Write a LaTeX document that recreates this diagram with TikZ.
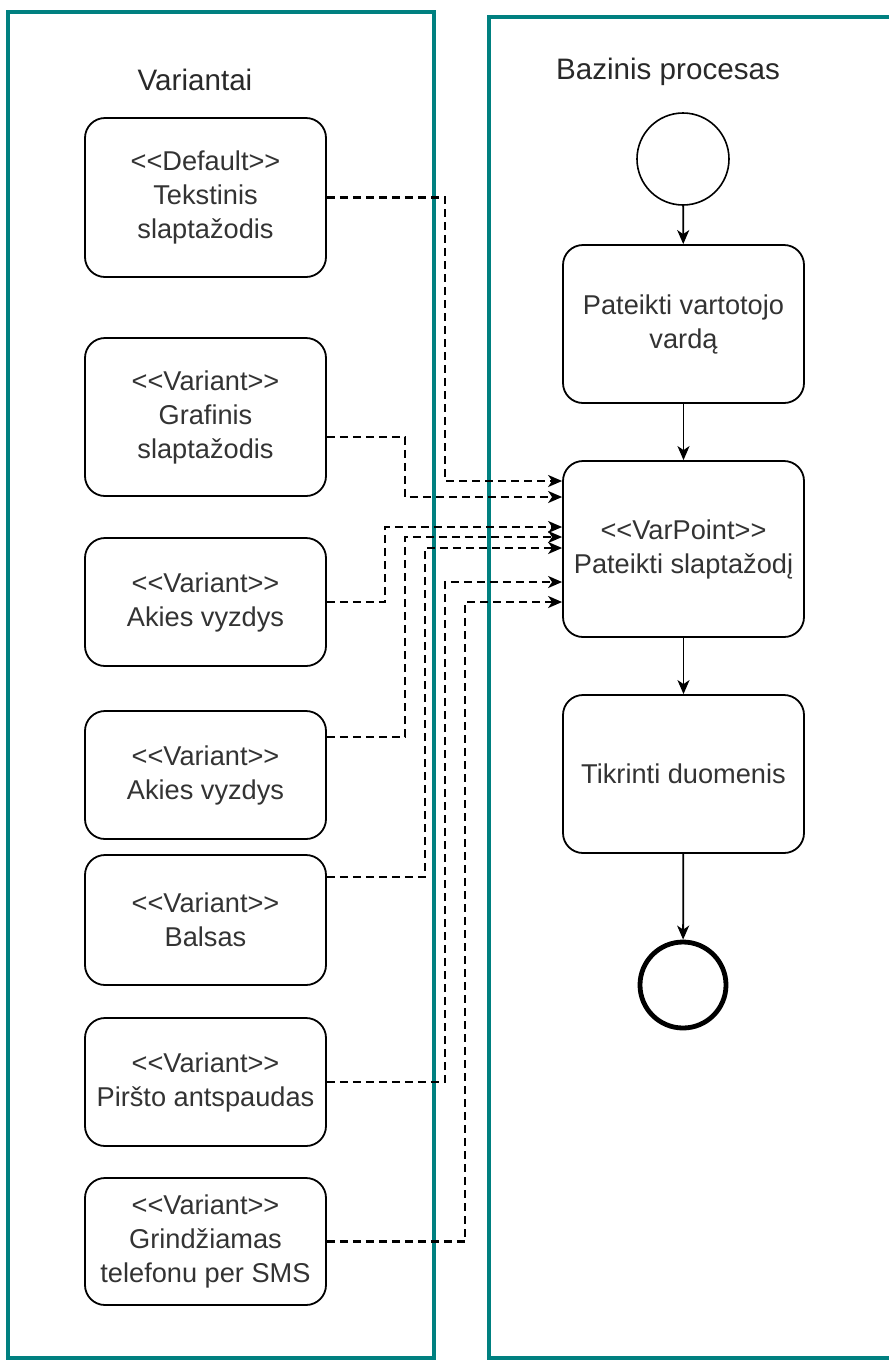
\documentclass[tikz,border=0pt]{standalone}
\usepackage{fontspec}
\setmainfont{Liberation Sans}[Ligatures=TeXOff]
\usetikzlibrary{arrows.meta}
\definecolor{poolteal}{HTML}{008080}
\definecolor{labeltext}{HTML}{333333}
\begin{document}
\begin{tikzpicture}[x=0.5pt,y=-0.5pt,
  pool/.style={draw=poolteal,line width=2pt},
  pooltitle/.style={text=labeltext!80!black,font=\fontsize{14.8pt}{17pt}\selectfont},
  task/.style={draw=black,line width=0.9pt,rounded corners=10pt,fill=white,
    minimum width=120.5pt,align=center,text=labeltext,inner sep=0pt,
    font=\fontsize{13.6pt}{17pt}\selectfont},
  startev/.style={circle,draw=black,line width=0.8pt,minimum size=46pt,inner sep=0pt,fill=white},
  endev/.style={circle,draw=black,line width=2.4pt,minimum size=43pt,inner sep=0pt,fill=white},
  flow/.style={line width=0.9pt,-{Stealth[length=7pt,width=6pt,inset=2pt]}},
  varlink/.style={line width=1.1pt,dash pattern=on 4pt off 2.5pt,
    -{Stealth[length=7pt,width=6pt,inset=2pt]}}]
\useasboundingbox (0,0) rectangle (889,1361);
\fill[white] (0,0) rectangle (889,1361);
\begin{scope}
\clip (0,0) rectangle (889,1361);
% swimlanes
\draw[pool] (8,12) rectangle (434,1358);
\draw[pool] (489,17) rectangle (940,1358);
\end{scope}
\node[pooltitle] (ttlvar) at (195,80) {Variantai};
\node[pooltitle] (ttlbase) at (668,72) {Bazinis procesas};

% variant boxes
\node[task,minimum height=79.5pt] (b1) at (205.5,197.5) {<<Default>>\\Tekstinis\\slaptažodis};
\node[task,minimum height=79pt] (b2) at (205.5,417) {<<Variant>>\\Grafinis\\slaptažodis};
\node[task,minimum height=64pt] (b3) at (205.5,602) {<<Variant>>\\Akies vyzdys};
\node[task,minimum height=64pt] (b4) at (205.5,775) {<<Variant>>\\Akies vyzdys};
\node[task,minimum height=65pt] (b5) at (205.5,920) {<<Variant>>\\Balsas};
\node[task,minimum height=64pt] (b6) at (205.5,1082) {<<Variant>>\\Piršto antspaudas};
\node[task,minimum height=63.5pt] (b7) at (205.5,1241.5) {<<Variant>>\\Grindžiamas\\telefonu per SMS};

% base process
\node[startev] (st) at (683,159) {};
\node[task,minimum height=79pt] (r1) at (683.5,324) {Pateikti vartotojo\\vardą};
\node[task,minimum height=88pt] (r2) at (683.5,549) {<<VarPoint>>\\Pateikti slaptažodį};
\node[task,minimum height=79pt] (r3) at (683.5,774) {Tikrinti duomenis};
\node[endev] (en) at (683,985) {};

\draw[flow] (st) -- (r1);
\draw[flow] (r1) -- (r2);
\draw[flow] (r2) -- (r3);
\draw[flow] (r3) -- (en);

% variant links into the variation point
\draw[varlink] (b1.east) -| (445,481) -- (r2.west |- 0,481);
\draw[varlink] ([yshift=-10pt]b2.east) -| (405,497) -- (r2.west |- 0,497);
\draw[varlink] (b3.east) -| (385,527) -- (r2.west |- 0,527);
\draw[varlink] ([yshift=19pt]b4.east) -| (405,537) -- (r2.west |- 0,537);
\draw[varlink] ([yshift=21.5pt]b5.east) -| (425,548) -- (r2.west |- 0,548);
\draw[varlink] (b6.east) -| (445,582) -- (r2.west |- 0,582);
\draw[varlink] (b7.east) -| (465,602) -- (r2.west |- 0,602);
\end{tikzpicture}
\end{document}
